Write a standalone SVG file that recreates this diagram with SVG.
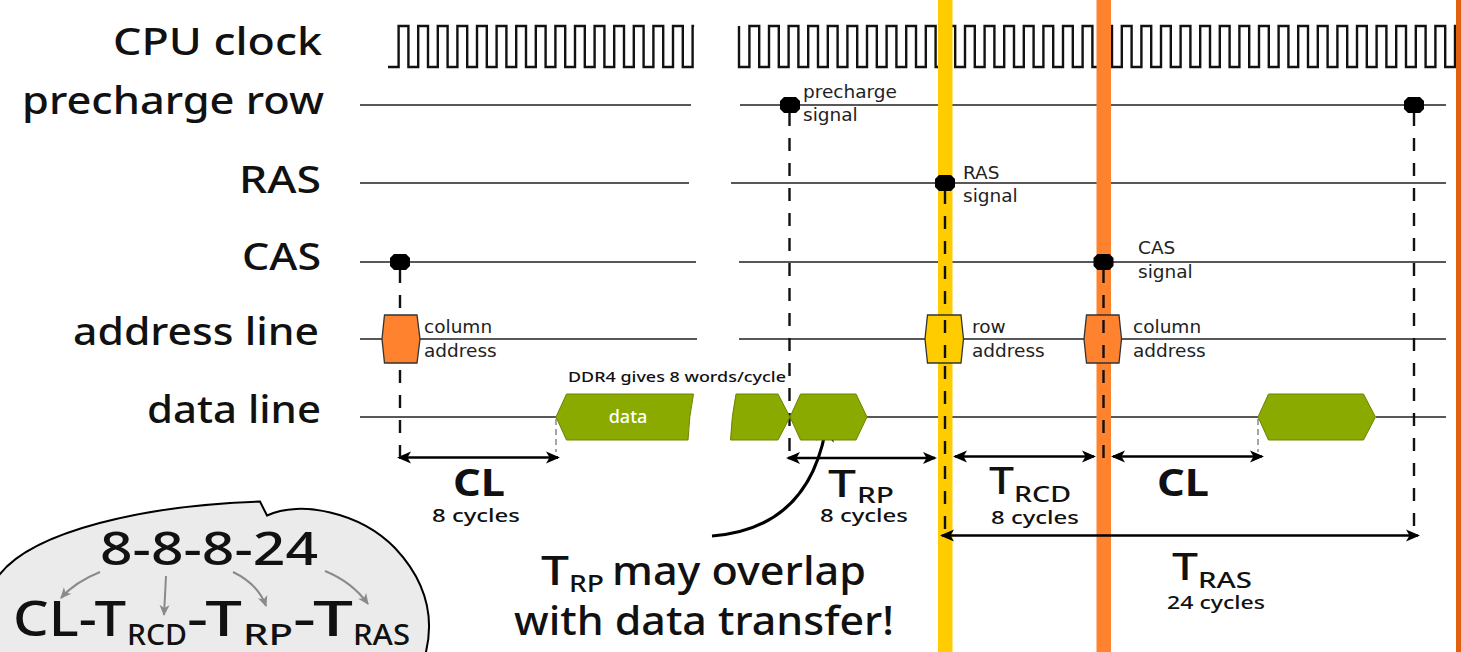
<svg xmlns="http://www.w3.org/2000/svg" width="1461" height="652" viewBox="0 0 1461 652">
  <defs>
    <style>
      .lbl { font-family: "Noto Sans", "Open Sans", sans-serif; fill: #111; font-weight: 500; }
      .row { font-size: 38px; text-anchor: end; }
      .note { font-family: "DejaVu Sans", Verdana, sans-serif; font-size: 18.5px; fill: #222; }
      .sig { stroke: #222; stroke-width: 1.3; fill: none; }
      .dash { stroke: #111; stroke-width: 2.4; stroke-dasharray: 13 12; fill: none; }
      .gdash { stroke: #888; stroke-width: 1.5; stroke-dasharray: 6 4; fill: none; }
      .span { stroke: #000; stroke-width: 2.6; fill: none; marker-start: url(#ah); marker-end: url(#ah); }
      .gray { stroke: #8a8a8a; stroke-width: 2; fill: none; marker-end: url(#gh); }
      .data { fill: #8aaa00; stroke: #6a8300; stroke-width: 1; }
      .addr { stroke: #333; stroke-width: 1.3; }
      .dot { fill: #000; }
      .cyc { font-size: 18.5px; }
      .big { font-size: 38px; }
      .sub { font-size: 22px; }
    </style>
    <marker id="ah" viewBox="-15 -7 18 14" refX="0" refY="0" markerWidth="18" markerHeight="14" markerUnits="userSpaceOnUse" orient="auto-start-reverse">
      <path d="M2,0 L-12,-6 L-8.5,0 L-12,6 Z" fill="#000"/>
    </marker>
    <marker id="gh" viewBox="-12 -6 14 12" refX="0" refY="0" markerWidth="14" markerHeight="12" markerUnits="userSpaceOnUse" orient="auto">
      <path d="M1,0 L-10,-5 L-7,0 L-10,5 Z" fill="#8a8a8a"/>
    </marker>
    <marker id="bh" viewBox="-32 -10 36 20" refX="0" refY="0" markerWidth="36" markerHeight="20" markerUnits="userSpaceOnUse" orient="auto">
      <path d="M3,0 L-28,-9 L-20,0 L-28,9 Z" fill="#000"/>
    </marker>
    <path id="hexdot" d="M-6,-8 L6,-8 L10,-4 L10,4 L6,8 L-6,8 L-10,4 L-10,-4 Z"/>
  </defs>

  <rect width="1461" height="652" fill="#fff"/>

  <!-- row labels -->
  <g id="row-labels" class="lbl row">
    <text x="322" y="55" textLength="209" lengthAdjust="spacingAndGlyphs">CPU clock</text>
    <text x="324" y="114" textLength="302" lengthAdjust="spacingAndGlyphs">precharge row</text>
    <text x="321" y="193" textLength="82" lengthAdjust="spacingAndGlyphs">RAS</text>
    <text x="321" y="270" textLength="79" lengthAdjust="spacingAndGlyphs">CAS</text>
    <text x="319" y="345" textLength="246" lengthAdjust="spacingAndGlyphs">address line</text>
    <text x="321" y="423" textLength="174" lengthAdjust="spacingAndGlyphs">data line</text>
  </g>

  <!-- clock waveform -->
  <g id="clock" fill="none" stroke="#111" stroke-width="2.4" stroke-linejoin="miter">
    <path d="M388,67 h10.6 v-41 h9.8 v41 h9.8 v-41 h9.8 v41 h9.8 v-41 h9.8 v41 h9.8 v-41 h9.8 v41 h9.8 v-41 h9.8 v41 h9.8 v-41 h9.8 v41 h9.8 v-41 h9.8 v41 h9.8 v-41 h9.8 v41 h9.8 v-41 h9.8 v41 h9.8 v-41 h9.8 v41 h9.8 v-41 h9.8 v41 h9.8 v-41 h9.8 v41 h9.8 v-41 h9.8 v41 h9.8 v-41 h9.8 v41 h9.8 v-41 h9.8 v41 h9.8 v-41 h1.5"/>
    <path d="M739,26 v41 h10.4 v-41 h9.8 v41 h9.8 v-41 h9.8 v41 h9.8 v-41 h9.8 v41 h9.8 v-41 h9.8 v41 h9.8 v-41 h9.8 v41 h9.8 v-41 h9.8 v41 h9.8 v-41 h9.8 v41 h9.8 v-41 h9.8 v41 h9.8 v-41 h9.8 v41 h9.8 v-41 h9.8 v41 h9.8 v-41 h9.8 v41 h9.8 v-41 h9.8 v41 h9.8 v-41 h9.8 v41 h9.8 v-41 h9.8 v41 h9.8 v-41 h9.8 v41 h9.8 v-41 h9.8 v41 h9.8 v-41 h9.8 v41 h9.8 v-41 h9.8 v41 h9.8 v-41 h9.8 v41 h9.8 v-41 h9.8 v41 h9.8 v-41 h9.8 v41 h9.8 v-41 h9.8 v41 h9.8 v-41 h9.8 v41 h9.8 v-41 h9.8 v41 h9.8 v-41 h9.8 v41 h9.8 v-41 h9.8 v41 h9.8 v-41 h9.8 v41 h9.8 v-41 h9.8 v41 h9.8 v-41 h9.8 v41 h9.8 v-41 h9.8 v41 h9.8 v-41 h9.8 v41 h9.8 v-41 h9.8 v41 h9.8 v-41 h9.8 v41 h9.8 v-41 h9.8 v41 h9.8 v-41 h9.8 v41 h9.8 v-41 h9.8 v41 h9.8 v-41 h9.8 v41 h9.8 v-41 h9.8 v41 h9.8 v-41 h9.8 v41 h9.8 v-41 h1"/>
  </g>

  <!-- signal lines -->
  <g id="signal-lines" class="sig">
    <path d="M360,105 H691 M740,105 H1446"/>
    <path d="M360,183 H689 M731,183 H1446"/>
    <path d="M360,262 H696 M739,262 H1446"/>
    <path d="M360,339 H697 M739,339 H1446"/>
    <path d="M360,417 H556 M867,417 H1258 M1376,417 H1446"/>
  </g>

  <!-- phase markers -->
  <g id="phase-bars">
    <rect x="938" y="0" width="14.5" height="652" fill="#ffcc00"/>
    <rect x="1096.5" y="0" width="14.5" height="652" fill="#ff832e"/>
    <rect x="1456" y="0" width="5" height="652" fill="#e0600e"/>
  </g>

  <!-- timing spans and guides -->
  <g id="connectors">
    <path class="dash" d="M400,270 V456"/>
    <path class="dash" d="M789.5,113 V458"/>
    <path class="dash" d="M945,191 V530"/>
    <path class="dash" d="M1103.5,270 V458"/>
    <path class="dash" d="M1414,113 V530"/>
    <path class="gdash" d="M556,419 V452"/>
    <path class="gdash" d="M1258,419 V452"/>

    <path class="span" d="M399,457.5 H558"/>
    <path class="span" d="M788,458 H935"/>
    <path class="span" d="M955,456.5 H1094"/>
    <path class="span" d="M1113,456.5 H1262"/>
    <path class="span" d="M942,535.5 H1418"/>

    <path d="M712,536 Q815,528 828,414" fill="none" stroke="#000" stroke-width="3" marker-end="url(#bh)"/>
  </g>

  <!-- signal events -->
  <g id="precharge-signal">
    <use href="#hexdot" x="790" y="105" class="dot"/>
    <use href="#hexdot" x="1414" y="105" class="dot"/>
    <text class="note" x="803" y="98">precharge</text>
    <text class="note" x="803" y="121">signal</text>
  </g>
  <g id="ras-signal">
    <use href="#hexdot" x="945" y="183" class="dot"/>
    <text class="note" x="963" y="179">RAS</text>
    <text class="note" x="963" y="202">signal</text>
  </g>
  <g id="cas-signal">
    <use href="#hexdot" x="400" y="262" class="dot"/>
    <use href="#hexdot" x="1103.5" y="262" class="dot"/>
    <text class="note" x="1138" y="254">CAS</text>
    <text class="note" x="1138" y="278">signal</text>
  </g>

  <!-- address bus -->
  <g id="column-address-1">
    <path class="addr" d="M384.5,315 L417,315 L420,339 L417,363 L384.5,363 L382,339 Z" fill="#ff832e"/>
    <text class="note" x="424" y="333">column</text>
    <text class="note" x="424" y="357">address</text>
  </g>
  <g id="row-address">
    <path class="addr" d="M927.5,315 L961,315 L963.5,339 L961,363 L927.5,363 L925,339 Z" fill="#ffcc00"/>
    <path class="dash" d="M945,320 V360"/>
    <text class="note" x="972" y="333">row</text>
    <text class="note" x="972" y="357">address</text>
  </g>
  <g id="column-address-2">
    <path class="addr" d="M1086.5,315 L1119,315 L1121.5,339 L1119,363 L1086.5,363 L1084,339 Z" fill="#ff832e"/>
    <path class="dash" d="M1103.5,320 V360"/>
    <text class="note" x="1133" y="333">column</text>
    <text class="note" x="1133" y="357">address</text>
  </g>

  <!-- data bus -->
  <g id="data-burst-1">
    <path class="data" d="M556,417 L566.5,394 L693.5,394 Q689,416 688,440 L566.5,440 Z"/>
    <text class="lbl" x="628" y="423" font-size="18" style="fill:#fff" text-anchor="middle">data</text>
    <text class="lbl" x="568" y="382" font-size="15" font-weight="600" textLength="218" lengthAdjust="spacingAndGlyphs">DDR4 gives 8 words/cycle</text>
  </g>
  <g id="data-burst-2">
    <path class="data" d="M736,394 L778,394 L790,417 L778,440 L730.5,440 Q731.5,416 736,394 Z"/>
    <path class="data" d="M790,417 L800.5,394 L856,394 L867,417 L856,440 L800.5,440 Z"/>
  </g>
  <g id="data-burst-3">
    <path class="data" d="M1258,417 L1268.5,394 L1363.5,394 L1375.5,417 L1363.5,440 L1268.5,440 Z" stroke="#9aa878"/>
  </g>

  <!-- timing labels -->
  <g id="label-cl-1" class="lbl">
    <text x="479" y="496" font-size="37" font-weight="700" text-anchor="middle" textLength="52" lengthAdjust="spacingAndGlyphs">CL</text>
    <text class="cyc" x="432" y="522" textLength="88" lengthAdjust="spacingAndGlyphs">8 cycles</text>
  </g>
  <g id="label-trp" class="lbl">
    <text class="big" x="828" y="497" textLength="28" lengthAdjust="spacingAndGlyphs">T</text>
    <text class="sub" x="857" y="503" textLength="37" lengthAdjust="spacingAndGlyphs">RP</text>
    <text class="cyc" x="820" y="522" textLength="88" lengthAdjust="spacingAndGlyphs">8 cycles</text>
  </g>
  <g id="label-trcd" class="lbl">
    <text class="big" x="989" y="494" textLength="25" lengthAdjust="spacingAndGlyphs">T</text>
    <text class="sub" x="1014" y="502" textLength="57" lengthAdjust="spacingAndGlyphs">RCD</text>
    <text class="cyc" x="991" y="524" textLength="88" lengthAdjust="spacingAndGlyphs">8 cycles</text>
  </g>
  <g id="label-cl-2" class="lbl">
    <text x="1183" y="496" font-size="37" font-weight="700" text-anchor="middle" textLength="52" lengthAdjust="spacingAndGlyphs">CL</text>
  </g>
  <g id="label-tras" class="lbl">
    <text class="big" x="1172" y="580" textLength="26" lengthAdjust="spacingAndGlyphs">T</text>
    <text class="sub" x="1198" y="588" textLength="54" lengthAdjust="spacingAndGlyphs">RAS</text>
    <text class="cyc" x="1167" y="609" textLength="98" lengthAdjust="spacingAndGlyphs">24 cycles</text>
  </g>

  <!-- overlap remark -->
  <g id="overlap-note" class="lbl">
    <text x="541" y="585" font-size="40" textLength="28" lengthAdjust="spacingAndGlyphs">T</text>
    <text x="569" y="592" font-size="24" textLength="35" lengthAdjust="spacingAndGlyphs">RP</text>
    <text x="612" y="585" font-size="40" textLength="254" lengthAdjust="spacingAndGlyphs">may overlap</text>
    <text x="514" y="635" font-size="40" textLength="380" lengthAdjust="spacingAndGlyphs">with data transfer!</text>
  </g>

  <!-- timing summary bubble -->
  <g id="timing-summary">
    <path d="M-3,578 C30,530 150,505 260,501.5 L267,515.5 C300,500 360,512 395,548 C425,580 436,615 425,656 L425,662 L-3,662 Z" fill="#ebebeb" stroke="#000" stroke-width="2"/>
    <text class="lbl" x="100" y="565" font-size="46" textLength="218" lengthAdjust="spacingAndGlyphs">8-8-8-24</text>
    <path class="gray" d="M100,572 Q75,582 61,598"/>
    <path class="gray" d="M166,576 Q165,596 164,615"/>
    <path class="gray" d="M233,572 Q258,584 266,606"/>
    <path class="gray" d="M325,571 Q352,582 368,604"/>
    <text class="lbl" x="13" y="636" font-size="49" textLength="113" lengthAdjust="spacingAndGlyphs">CL-T</text>
    <text class="lbl" x="127" y="645" font-size="29" textLength="60" lengthAdjust="spacingAndGlyphs">RCD</text>
    <text class="lbl" x="187" y="636" font-size="49" textLength="55" lengthAdjust="spacingAndGlyphs">-T</text>
    <text class="lbl" x="243" y="645" font-size="29" textLength="50" lengthAdjust="spacingAndGlyphs">RP</text>
    <text class="lbl" x="293" y="636" font-size="49" textLength="60" lengthAdjust="spacingAndGlyphs">-T</text>
    <text class="lbl" x="353" y="645" font-size="29" textLength="57" lengthAdjust="spacingAndGlyphs">RAS</text>
  </g>
</svg>
